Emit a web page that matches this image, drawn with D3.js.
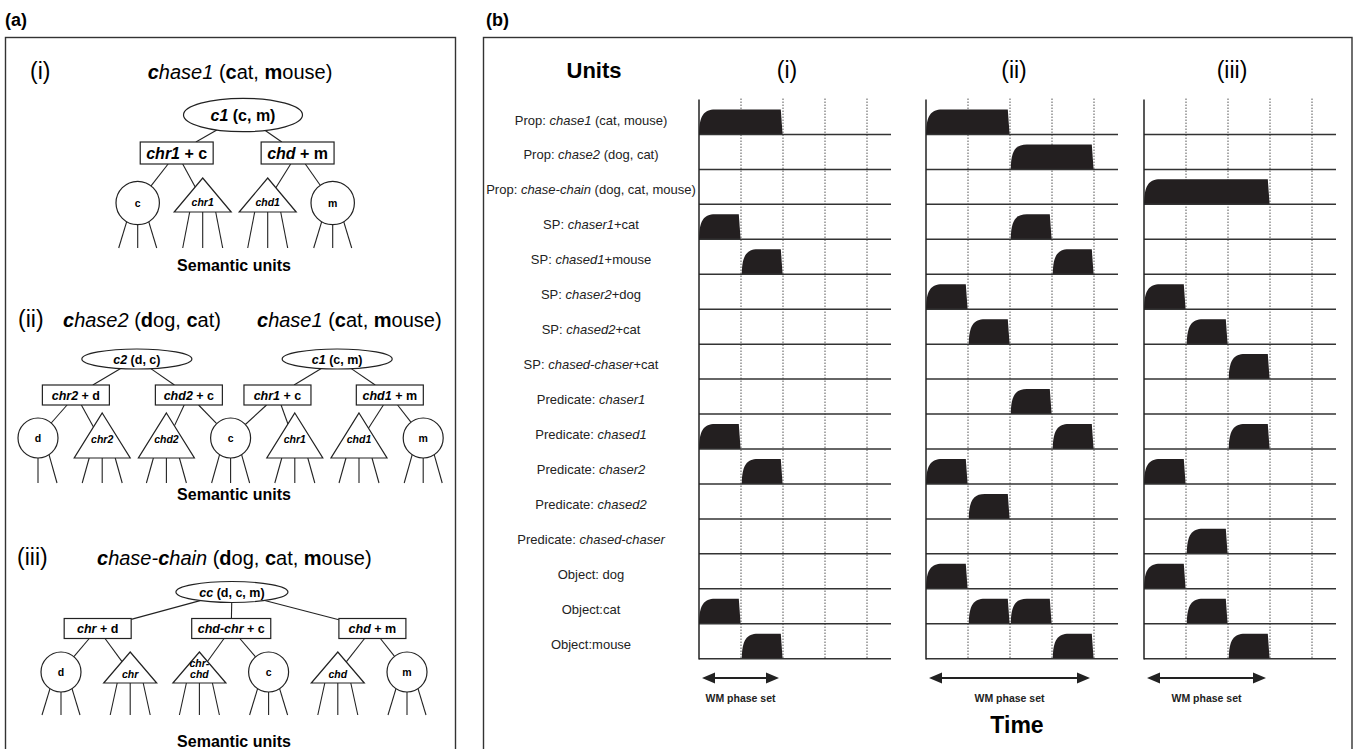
<!DOCTYPE html>
<html lang="en">
<head>
  <meta charset="UTF-8">
  <title>Phase set diagram</title>
  <style>
    body { margin: 0; background: #fff; }
    svg { display: block; font-family: "Liberation Sans", Arial, Helvetica, sans-serif; white-space: pre; }
    .frame { fill: none; stroke: #333; stroke-width: 1.4px; }
    .edge { stroke: #222; stroke-width: 1.1px; }
    .shape { fill: #fff; stroke: #222; stroke-width: 1.2px; }
    .base { stroke: #333; stroke-width: 1.5px; }
    .axis { stroke: #222; stroke-width: 1.5px; }
    .dot { stroke: #555; stroke-width: 1px; stroke-dasharray: 1.5 1.5; }
    .pulse { fill: #231f20; }
  </style>
</head>
<body>
  <svg width="1355" height="749"></svg>

  <script src="https://d3js.org/d3.v7.min.js"></script>
  <script>
    // markup: segments split by "|", first char R regular, B bold, I italic, X bold italic

    // ---------- panel (a) ----------
    const titleI = "Xc|Ihase1|R (|Bc|Rat, |Bm|Rouse)";
    const titleIIa = "Xc|Ihase2|R (|Bd|Rog, |Bc|Rat)";
    const titleIIb = "Xc|Ihase1|R (|Bc|Rat, |Bm|Rouse)";
    const titleIII = "Xc|Ihase-|Xc|Ihain|R (|Bd|Rog, |Bc|Rat, |Bm|Rouse)";

    const rootsI = [{ label: "Xc1|B (c, m)", slot: 1.62, kids: [0, 1] }];
    const boxesI = [
      { label: "Xchr1|B + c", slot: 0.6, kids: [0, 1] },
      { label: "Xchd|B + m", slot: 2.46, kids: [2, 3] }
    ];
    const leavesI = [
      { type: "circle", label: "c", slot: 0 },
      { type: "tri", label: "chr1", slot: 1 },
      { type: "tri", label: "chd1", slot: 2 },
      { type: "circle", label: "m", slot: 3 }
    ];

    const rootsII = [
      { label: "Xc2|B (d, c)", slot: 1.54, kids: [0, 1] },
      { label: "Xc1|B (c, m)", slot: 4.66, kids: [2, 3] }
    ];
    const boxesII = [
      { label: "Xchr2|B + d", slot: 0.59, kids: [0, 1] },
      { label: "Xchd2|B + c", slot: 2.35, kids: [2, 3] },
      { label: "Xchr1|B + c", slot: 3.73, kids: [3, 4] },
      { label: "Xchd1|B + m", slot: 5.48, kids: [5, 6] }
    ];
    const leavesII = [
      { type: "circle", label: "d", slot: 0, fan: [0, 1] },
      { type: "tri", label: "chr2", slot: 1 },
      { type: "tri", label: "chd2", slot: 2 },
      { type: "circle", label: "c", slot: 3 },
      { type: "tri", label: "chr1", slot: 4 },
      { type: "tri", label: "chd1", slot: 5 },
      { type: "circle", label: "m", slot: 6 }
    ];

    const rootsIII = [{ label: "Xcc|B (d, c, m)", slot: 2.47, kids: [0, 1, 2] }];
    const boxesIII = [
      { label: "Xchr|B + d", slot: 0.53, kids: [0, 1] },
      { label: "Xchd-chr|B + c", slot: 2.46, kids: [2, 3] },
      { label: "Xchd|B + m", slot: 4.5, kids: [4, 5] }
    ];
    const leavesIII = [
      { type: "circle", label: "d", slot: 0 },
      { type: "tri", label: "chr", slot: 1 },
      { type: "tri", label: "chr-\nchd", slot: 2 },
      { type: "circle", label: "c", slot: 3 },
      { type: "tri", label: "chd", slot: 4 },
      { type: "circle", label: "m", slot: 5 }
    ];

    // ---------- panel (b) ----------
    const units = [
      "RProp: |Ichase1|R (cat, mouse)",
      "RProp: |Ichase2|R (dog, cat)",
      "RProp: |Ichase-chain|R (dog, cat, mouse)",
      "RSP: |Ichaser1|R+cat",
      "RSP: |Ichased1|R+mouse",
      "RSP: |Ichaser2|R+dog",
      "RSP: |Ichased2|R+cat",
      "RSP: |Ichased-chaser|R+cat",
      "RPredicate: |Ichaser1",
      "RPredicate: |Ichased1",
      "RPredicate: |Ichaser2",
      "RPredicate: |Ichased2",
      "RPredicate: |Ichased-chaser",
      "RObject: dog",
      "RObject:cat",
      "RObject:mouse"
    ];
    const columns = ["(i)", "(ii)", "(iii)"];
    const phaseTicks = [1, 2, 3, 4];
    // [row, start phase, number of phases]
    const pulsesI = [[0, 0, 2], [3, 0, 1], [4, 1, 1], [9, 0, 1], [10, 1, 1], [14, 0, 1], [15, 1, 1]];
    const pulsesII = [[0, 0, 2], [1, 2, 2], [3, 2, 1], [4, 3, 1], [5, 0, 1], [6, 1, 1], [8, 2, 1],
      [9, 3, 1], [10, 0, 1], [11, 1, 1], [13, 0, 1], [14, 1, 1], [14, 2, 1], [15, 3, 1]];
    const pulsesIII = [[2, 0, 3], [5, 0, 1], [6, 1, 1], [7, 2, 1], [9, 2, 1], [10, 0, 1], [12, 1, 1],
      [13, 0, 1], [14, 1, 1], [15, 2, 1]];
    const wmPhaseSet = [2, 4, 3];

    const svg = d3.select("svg");

    function rich(sel, spec) {
      spec.split("|").forEach(seg => {
        const k = seg[0];
        sel.append("tspan")
          .attr("font-weight", k === "B" || k === "X" ? "bold" : null)
          .attr("font-style", k === "I" || k === "X" ? "italic" : null)
          .text(seg.slice(1));
      });
      return sel;
    }

    function text(x, y, size, anchor, spec, weight) {
      const t = svg.append("text").attr("x", x).attr("y", y)
        .attr("font-size", size).attr("text-anchor", anchor)
        .attr("font-weight", weight || null);
      return rich(t, spec);
    }

    // frames and panel letters
    svg.append("rect").attr("class", "frame").attr("x", 5.5).attr("y", 37.5).attr("width", 450).attr("height", 730);
    svg.append("rect").attr("class", "frame").attr("x", 483.5).attr("y", 37.5).attr("width", 868.5).attr("height", 730);
    text(5, 26, 18, "start", "B(a)");
    text(486, 26, 18, "start", "B(b)");

    // ---------- tree drawing ----------
    function clip(a, b) {
      const P = t => [a.cx + (b.cx - a.cx) * t, a.cy + (b.cy - a.cy) * t];
      let lo = 0, hi = 1;
      for (let i = 0; i < 30; i++) { const m = (lo + hi) / 2; if (a.inside(...P(m))) lo = m; else hi = m; }
      const t0 = hi;
      lo = 0; hi = 1;
      for (let i = 0; i < 30; i++) { const m = (lo + hi) / 2; if (b.inside(...P(m))) hi = m; else lo = m; }
      return [P(t0), P(lo)];
    }

    function drawTree(cfg, roots, boxes, leaves) {
      const x = d3.scaleLinear().domain([0, 1]).range([cfg.x0, cfg.x0 + cfg.dx]);
      const g = svg.append("g");
      const edgeG = g.append("g"), nodeG = g.append("g");

      const leafN = leaves.map(d => {
        const cx = x(d.slot);
        if (d.type === "circle") {
          const cy = cfg.yLeaf;
          return Object.assign({}, d, { cx, cy, inside: (px, py) => (px - cx) ** 2 + (py - cy) ** 2 <= cfg.r ** 2 });
        }
        const top = cfg.triApex, bot = cfg.triApex + cfg.triH, hw = cfg.triW / 2;
        return Object.assign({}, d, {
          cx, cy: top + 2 * cfg.triH / 3, top, bot,
          inside: (px, py) => py >= top && py <= bot && Math.abs(px - cx) <= hw * (py - top) / cfg.triH
        });
      });

      // boxes: text first to measure
      const boxN = boxes.map(d => {
        const cx = x(d.slot), cy = cfg.yBox;
        const bg = nodeG.append("g");
        const rect = bg.append("rect").attr("class", "shape");
        const t = bg.append("text").attr("x", cx).attr("y", cy + cfg.fs * 0.36)
          .attr("text-anchor", "middle").attr("font-size", cfg.fs);
        rich(t, d.label);
        const w = Math.max(cfg.boxMin, t.node().getComputedTextLength() + 12);
        rect.attr("x", cx - w / 2).attr("y", cy - cfg.boxH / 2).attr("width", w).attr("height", cfg.boxH);
        return Object.assign({}, d, { cx, cy, inside: (px, py) => Math.abs(px - cx) <= w / 2 && Math.abs(py - cy) <= cfg.boxH / 2 });
      });

      const rootN = roots.map(d => {
        const cx = x(d.slot), cy = cfg.yRoot;
        nodeG.append("ellipse").attr("class", "shape").attr("cx", cx).attr("cy", cy).attr("rx", cfg.rx).attr("ry", cfg.ry);
        const t = nodeG.append("text").attr("x", cx).attr("y", cy + cfg.fs * 0.36)
          .attr("text-anchor", "middle").attr("font-size", cfg.fs);
        rich(t, d.label);
        return Object.assign({}, d, { cx, cy, inside: (px, py) => ((px - cx) / cfg.rx) ** 2 + ((py - cy) / cfg.ry) ** 2 <= 1 });
      });

      const edges = [];
      rootN.forEach(r => r.kids.forEach(k => edges.push(clip(r, boxN[k]))));
      boxN.forEach(b => b.kids.forEach(k => edges.push(clip(b, leafN[k]))));
      edgeG.selectAll("line.e").data(edges).join("line").attr("class", "edge")
        .attr("x1", d => d[0][0]).attr("y1", d => d[0][1])
        .attr("x2", d => d[1][0]).attr("y2", d => d[1][1]);

      // fan lines to semantic units
      const fans = [];
      leafN.forEach(d => {
        (d.fan || [-1, 0, 1]).forEach(k => {
          if (d.type === "circle") {
            const dx = k * 11;
            fans.push([d.cx + dx, d.cy + Math.sqrt(cfg.r ** 2 - dx * dx), d.cx + k * 19, cfg.fanEnd]);
          } else {
            fans.push([d.cx + k * 13, d.bot, d.cx + k * 20, cfg.fanEnd]);
          }
        });
      });
      edgeG.selectAll("line.f").data(fans).join("line").attr("class", "edge")
        .attr("x1", d => d[0]).attr("y1", d => d[1]).attr("x2", d => d[2]).attr("y2", d => d[3]);

      leafN.forEach(d => {
        if (d.type === "circle") {
          nodeG.append("circle").attr("class", "shape").attr("cx", d.cx).attr("cy", d.cy).attr("r", cfg.r);
          nodeG.append("text").attr("x", d.cx).attr("y", d.cy + 4).attr("text-anchor", "middle")
            .attr("font-size", cfg.leafFs).attr("font-weight", "bold").text(d.label);
        } else {
          const hw = cfg.triW / 2;
          nodeG.append("path").attr("class", "shape")
            .attr("d", `M${d.cx},${d.top}L${d.cx + hw},${d.bot}L${d.cx - hw},${d.bot}Z`);
          const lines = d.label.split("\n");
          lines.forEach((s, i) => {
            nodeG.append("text").attr("x", d.cx)
              .attr("y", d.bot - cfg.triText - (lines.length - 1 - i) * 11)
              .attr("text-anchor", "middle").attr("font-size", cfg.leafFs)
              .attr("font-weight", "bold").attr("font-style", "italic").text(s);
          });
        }
      });
    }

    // (i)
    text(30, 79, 23, "start", "R(i)");
    text(240, 79, 20, "middle", titleI);
    drawTree({ x0: 137.7, dx: 65, yRoot: 115, yBox: 153, yLeaf: 203, rx: 59.5, ry: 16.7, boxH: 22, boxMin: 70,
      fs: 16, leafFs: 10.5, r: 21.7, triW: 57, triH: 34, triApex: 178, triText: 6, fanEnd: 248 },
      rootsI, boxesI, leavesI);
    text(234, 271, 16, "middle", "BSemantic units");

    // (ii)
    text(18, 327, 23, "start", "R(ii)");
    text(63, 327, 20, "start", titleIIa);
    text(257, 327, 20, "start", titleIIb);
    drawTree({ x0: 38, dx: 64.2, yRoot: 359, yBox: 395, yLeaf: 438, rx: 55, ry: 10, boxH: 20, boxMin: 67,
      fs: 12.5, leafFs: 10.5, r: 20, triW: 56, triH: 45, triApex: 413, triText: 15, fanEnd: 483 },
      rootsII, boxesII, leavesII);
    text(234, 500, 16, "middle", "BSemantic units");

    // (iii)
    text(17, 565, 23, "start", "R(iii)");
    text(97, 565, 20, "start", titleIII);
    drawTree({ x0: 61, dx: 69.2, yRoot: 592, yBox: 628.5, yLeaf: 672, rx: 56, ry: 10.5, boxH: 20, boxMin: 67,
      fs: 12.5, leafFs: 10.5, r: 20, triW: 53, triH: 31, triApex: 652, triText: 5, fanEnd: 715 },
      rootsIII, boxesIII, leavesIII);
    text(234, 747, 16, "middle", "BSemantic units");

    // ---------- panel (b) ----------
    const colLeft = [699, 926, 1144];
    const phaseW = 42, colSpan = 192 / 42;
    const pulseSets = [pulsesI, pulsesII, pulsesIII];
    const y = d3.scaleLinear().domain([0, units.length]).range([99.5, 658.7]);

    text(594, 78, 22, "middle", "BUnits");
    units.forEach((u, i) => text(591, y(i) + 25, 13, "middle", u).attr("fill", "#222"));

    function pulsePath(xa, xb, base, h) {
      const top = base - h;
      return `M${xa},${base}C${xa},${base - h * 0.75} ${xa + 5},${top} ${xa + 16},${top}` +
        `L${xb - 1.8},${top}L${xb},${base}Z`;
    }

    columns.forEach((name, c) => {
      const x = d3.scaleLinear().domain([0, 1]).range([colLeft[c], colLeft[c] + phaseW]);
      const g = svg.append("g");

      g.selectAll("line.dot").data(phaseTicks).join("line").attr("class", "dot")
        .attr("x1", d => x(d)).attr("x2", d => x(d))
        .attr("y1", y(0) - 1).attr("y2", y(units.length));

      g.selectAll("path.pulse").data(pulseSets[c]).join("path").attr("class", "pulse")
        .attr("d", d => pulsePath(x(d[1]) + (d[1] ? 0.8 : 0), x(d[1] + d[2]) - 0.4, y(d[0] + 1), 25));

      g.selectAll("line.base").data(d3.range(1, units.length + 1)).join("line").attr("class", "base")
        .attr("x1", x(0)).attr("x2", x(colSpan))
        .attr("y1", d => y(d)).attr("y2", d => y(d));

      g.append("line").attr("class", "axis")
        .attr("x1", x(0)).attr("x2", x(0)).attr("y1", y(0)).attr("y2", y(units.length) + 0.7);

      text(x(0) + 88, 78, 23, "middle", "R" + name);

      // WM phase set arrow
      const xa = x(0) + 3, xb = x(wmPhaseSet[c]) - 4, ay = 678;
      g.append("line").attr("x1", xa + 10).attr("x2", xb - 10).attr("y1", ay).attr("y2", ay)
        .attr("stroke", "#222").attr("stroke-width", 2);
      g.append("path").attr("fill", "#222")
        .attr("d", `M${xa},${ay}L${xa + 13},${ay - 5.5}L${xa + 13},${ay + 5.5}Z` +
          `M${xb},${ay}L${xb - 13},${ay - 5.5}L${xb - 13},${ay + 5.5}Z`);
      text((xa + xb) / 2, 702, 10.5, "middle", "BWM phase set").attr("fill", "#222");
    });

    text(1017, 733, 23, "middle", "BTime");
  </script>
</body>
</html>
